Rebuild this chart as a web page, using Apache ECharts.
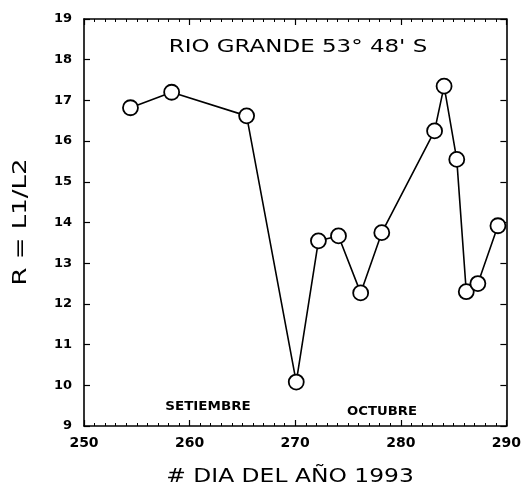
<!DOCTYPE html>
<html><head><meta charset="utf-8">
<script src="https://cdn.jsdelivr.net/npm/echarts@6/dist/echarts.min.js"></script>
<style>html,body{margin:0;padding:0;background:#fff}#c{width:524px;height:495px}</style>
</head><body><div id="c"></div>
<script>
const days = [254.4, 258.3, 265.4, 270.1, 272.2, 274.1, 276.2, 278.2, 283.2, 284.1, 285.3, 286.2, 287.3, 289.2];
const ratios = [16.82, 17.2, 16.62, 10.08, 13.55, 13.67, 12.27, 13.75, 16.25, 17.35, 15.55, 12.3, 12.5, 13.92];
const xTicks = [250, 260, 270, 280, 290];
const yTicks = [9, 10, 11, 12, 13, 14, 15, 16, 17, 18, 19];
const title = "RIO GRANDE 53° 48' S";
const monthLabels = ["SETIEMBRE", "OCTUBRE"];
const xTitle = "# DIA DEL AÑO 1993";
const yTitle = "R = L1/L2";

const chart = echarts.init(document.getElementById('c'), null, {renderer: 'canvas'});
const F = 'DejaVu Sans, sans-serif';
const line = {lineStyle: {color: '#000', width: 1.6}};
const tick = {inside: true, length: 6, lineStyle: {color: '#000', width: 1.2}};
const minor = {show: true, splitNumber: 10, length: 3, lineStyle: {color: '#000'}};
chart.setOption({
  backgroundColor: '#fff',
  animation: false,
  grid: {left: 84, right: 17, top: 19, bottom: 69, show: false},
  xAxis: [{
    type: 'value', min: xTicks[0], max: xTicks[xTicks.length-1], interval: 10,
    axisLine: line, axisTick: tick, minorTick: minor,
    splitLine: {show: false},
    axisLabel: {margin: 10, color: '#000', fontFamily: F, fontWeight: 'bold', fontSize: 14}
  }, {
    type: 'value', position: 'top', min: xTicks[0], max: xTicks[xTicks.length-1], interval: 10,
    axisLine: line, axisTick: tick, minorTick: minor,
    splitLine: {show: false}, axisLabel: {show: false}
  }],
  yAxis: [{
    type: 'value', min: yTicks[0], max: yTicks[yTicks.length-1], interval: 1,
    axisLine: line, axisTick: tick,
    splitLine: {show: false},
    axisLabel: {margin: 12, color: '#000', fontFamily: F, fontWeight: 'bold', fontSize: 13}
  }, {
    type: 'value', position: 'right', min: yTicks[0], max: yTicks[yTicks.length-1], interval: 1,
    axisLine: line, axisTick: tick,
    splitLine: {show: false}, axisLabel: {show: false}
  }],
  series: [{
    type: 'line',
    data: days.map((d, i) => [d, ratios[i]]),
    symbol: 'circle', symbolSize: 15,
    itemStyle: {color: '#fff', borderColor: '#000', borderWidth: 1.8},
    lineStyle: {color: '#000', width: 1.6},
    z: 5
  }],
  graphic: [
    {type: 'text', x: 298, y: 48, scaleX: 1.35,
     style: {text: title, fontFamily: F, fontSize: 17, fill: '#000', align: 'center', verticalAlign: 'middle'}},
    {type: 'text', x: 208, y: 407, scaleX: 1.12,
     style: {text: monthLabels[0], fontFamily: F, fontWeight: 'bold', fontSize: 12, fill: '#000', align: 'center', verticalAlign: 'middle'}},
    {type: 'text', x: 382, y: 412, scaleX: 1.1,
     style: {text: monthLabels[1], fontFamily: F, fontWeight: 'bold', fontSize: 12, fill: '#000', align: 'center', verticalAlign: 'middle'}},
    {type: 'text', x: 290, y: 477, scaleX: 1.17,
     style: {text: xTitle, fontFamily: F, fontSize: 20, fill: '#000', align: 'center', verticalAlign: 'middle'}},
    {type: 'text', x: 21, y: 222, rotation: Math.PI / 2, scaleX: 1.3,
     style: {text: yTitle, fontFamily: F, fontSize: 20, fill: '#000', align: 'center', verticalAlign: 'middle'}}
  ]
});
</script></body></html>
